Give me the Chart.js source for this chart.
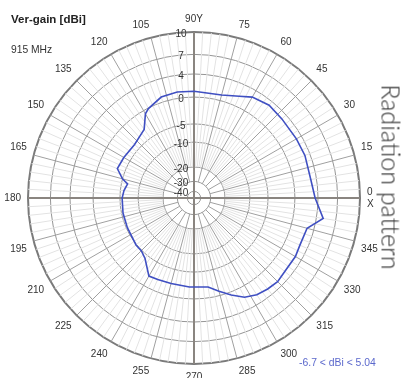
<!DOCTYPE html>
<html>
<head>
<meta charset="utf-8">
<script src="https://cdn.jsdelivr.net/npm/chart.js@4.4.1/dist/chart.umd.min.js"></script>
<style>
  html, body { margin: 0; padding: 0; background: #fff; width: 420px; height: 378px; overflow: hidden; }
  #wrap { position: relative; width: 420px; height: 378px; overflow: hidden; }
  canvas { position: absolute; left: 0; top: 0; }
  .txt { position: absolute; font-family: "Liberation Sans", Arial, sans-serif; white-space: nowrap; line-height: 1; }
  #title { left: 11px; top: 14px; font-size: 11.5px; font-weight: bold; color: #222; }
  #freq { left: 11px; top: 45px; font-size: 10.3px; color: #333; }
  #range { left: 299px; top: 358px; font-size: 10.4px; color: #5b68cc; }
  #side { left: 391px; top: 177px; font-family: Lato, "Open Sans", sans-serif; font-weight: 300; font-size: 25px; color: #333;
          transform: translate(-50%, -50%) rotate(90deg); }
</style>
</head>
<body>
<div id="wrap">
  <canvas id="chart" width="420" height="400"></canvas>
  <div class="txt" id="title">Ver-gain [dBi]</div>
  <div class="txt" id="freq">915 MHz</div>
  <div class="txt" id="range">-6.7 &lt; dBi &lt; 5.04</div>
  <div class="txt" id="side">Radiation pattern</div>
</div>
<script>
// Measured vertical-plane gain at 915 MHz (angle in degrees, gain in dBi)
const sampleAngles = [0, 9, 21, 30, 42, 51, 60, 66, 75, 90, 99, 108, 117, 120, 126,
  129, 138, 150, 159, 165, 168, 174, 180, 192, 204, 219, 225, 231, 240, 246,
  255, 267, 279, 285, 291, 297, 303, 309, 315, 321, 330, 336, 345, 351];
const gainDbi = [3.5, 3.0, 3.1, 3.0, 3.0, 3.2, 2.7, 1.8, 1.0, 1.0, 1.1, 0.9, -0.1, -0.7, -3.0,
  -3.3, -3.9, -3.7, -3.5, -5.0, -6.7, -6.0, -5.6, -5.4, -5.3, -4.9, -4.9, -4.3, -2.0, -2.2,
  -2.3, -2.2, -2.0, -0.8, 0.5, 1.8, 2.5, 2.8, 3.0, 2.75, 2.8, 2.6, 2.8, 5.04];

// Gain rings (dBi) and the angular grid step (degrees)
const ringValues = [-40, -30, -20, -10, -5, 0, 4, 7, 10];
const angleStep = 3;
const labelStep = 15;

// One grid slot per angle step, counter-clockwise from the X axis
const gridAngles = [];
for (let a = 0; a < 360; a += angleStep) gridAngles.push((360 - a) % 360);

const angleLabels = gridAngles.map(a => {
  if (a % labelStep !== 0) return '';
  if (a === 0) return ['0', 'X'];
  if (a === 90) return '90Y';
  return String(a);
});

const gainSeries = gridAngles.map(a => {
  const k = sampleAngles.indexOf(a);
  return k >= 0 ? gainDbi[k] : null;
});

// Radial scale with compressed (log-like) spacing of the gain rings
class GainRadialScale extends Chart.RadialLinearScale {
  static id = 'radialGain';
  static ringFraction = [0.04, 0.10, 0.187, 0.337, 0.446, 0.608, 0.747, 0.865, 1];

  buildTicks() {
    return ringValues.map(v => ({ value: v }));
  }
  fractionFor(v) {
    const vals = ringValues, fr = GainRadialScale.ringFraction;
    if (v <= vals[0]) return fr[0] * Math.max(0, 1 + (v - vals[0]) / 10);
    for (let i = 1; i < vals.length; i++) {
      if (v <= vals[i]) {
        const t = (v - vals[i - 1]) / (vals[i] - vals[i - 1]);
        return fr[i - 1] + t * (fr[i] - fr[i - 1]);
      }
    }
    return 1;
  }
  getDistanceFromCenterForValue(value) {
    if (value === null || value === undefined || isNaN(value)) return NaN;
    return this.drawingArea * this.fractionFor(value);
  }
  drawLabels() {
    const opts = this.options.ticks;
    if (!opts.display) return;
    const ctx = this.ctx;
    ctx.save();
    ctx.font = Chart.helpers.toFont(opts.font).string;
    ctx.fillStyle = opts.color;
    ctx.textAlign = 'center';
    ctx.textBaseline = 'middle';
    this.ticks.forEach(t => {
      const d = this.getDistanceFromCenterForValue(t.value);
      ctx.fillText(t.label, this.xCenter - 13, this.yCenter - d + 2);
    });
    ctx.restore();
  }
}
Chart.register(GainRadialScale);

const axisGray = '#8a8580';

new Chart(document.getElementById('chart'), {
  type: 'radar',
  data: {
    labels: angleLabels,
    datasets: [{
      data: gainSeries,
      borderColor: '#3f4fc2',
      borderWidth: 1.6,
      pointRadius: 0,
      fill: false,
      spanGaps: true,
      tension: 0
    }]
  },
  options: {
    responsive: false,
    animation: false,
    devicePixelRatio: 1,
    layout: { padding: { left: 1, right: 37, top: 13, bottom: 17 } },
    plugins: { legend: { display: false }, tooltip: { enabled: false } },
    scales: {
      r: {
        type: 'radialGain',
        min: -40,
        max: 10,
        startAngle: 90,
        ticks: {
          display: true,
          showLabelBackdrop: false,
          color: '#333',
          font: { family: '"Liberation Sans", Arial, sans-serif', size: 10 }
        },
        grid: {
          circular: true,
          color: c => c.tick && c.tick.value === 10 ? '#7a7a7a' : '#959595',
          lineWidth: c => c.tick && c.tick.value === 10 ? 2 : 1
        },
        angleLines: {
          color: c => {
            const a = gridAngles[c.index];
            if (a % 90 === 0) return axisGray;
            if (a % labelStep === 0) return '#a0a0a0';
            return '#e3e3e3';
          },
          lineWidth: c => gridAngles[c.index] % 90 === 0 ? 2 : 1,
          borderDash: c => {
            const a = gridAngles[c.index];
            if (a % 90 === 0) return [];
            const s = c.chart.scales.r;
            const inner = s.getDistanceFromCenterForValue(a % labelStep === 0 ? -30 : -20);
            return [0, inner, 2000];
          }
        },
        pointLabels: {
          color: '#333',
          padding: 0,
          font: { family: '"Liberation Sans", Arial, sans-serif', size: 10 }
        }
      }
    }
  }
});
</script>
</body>
</html>
